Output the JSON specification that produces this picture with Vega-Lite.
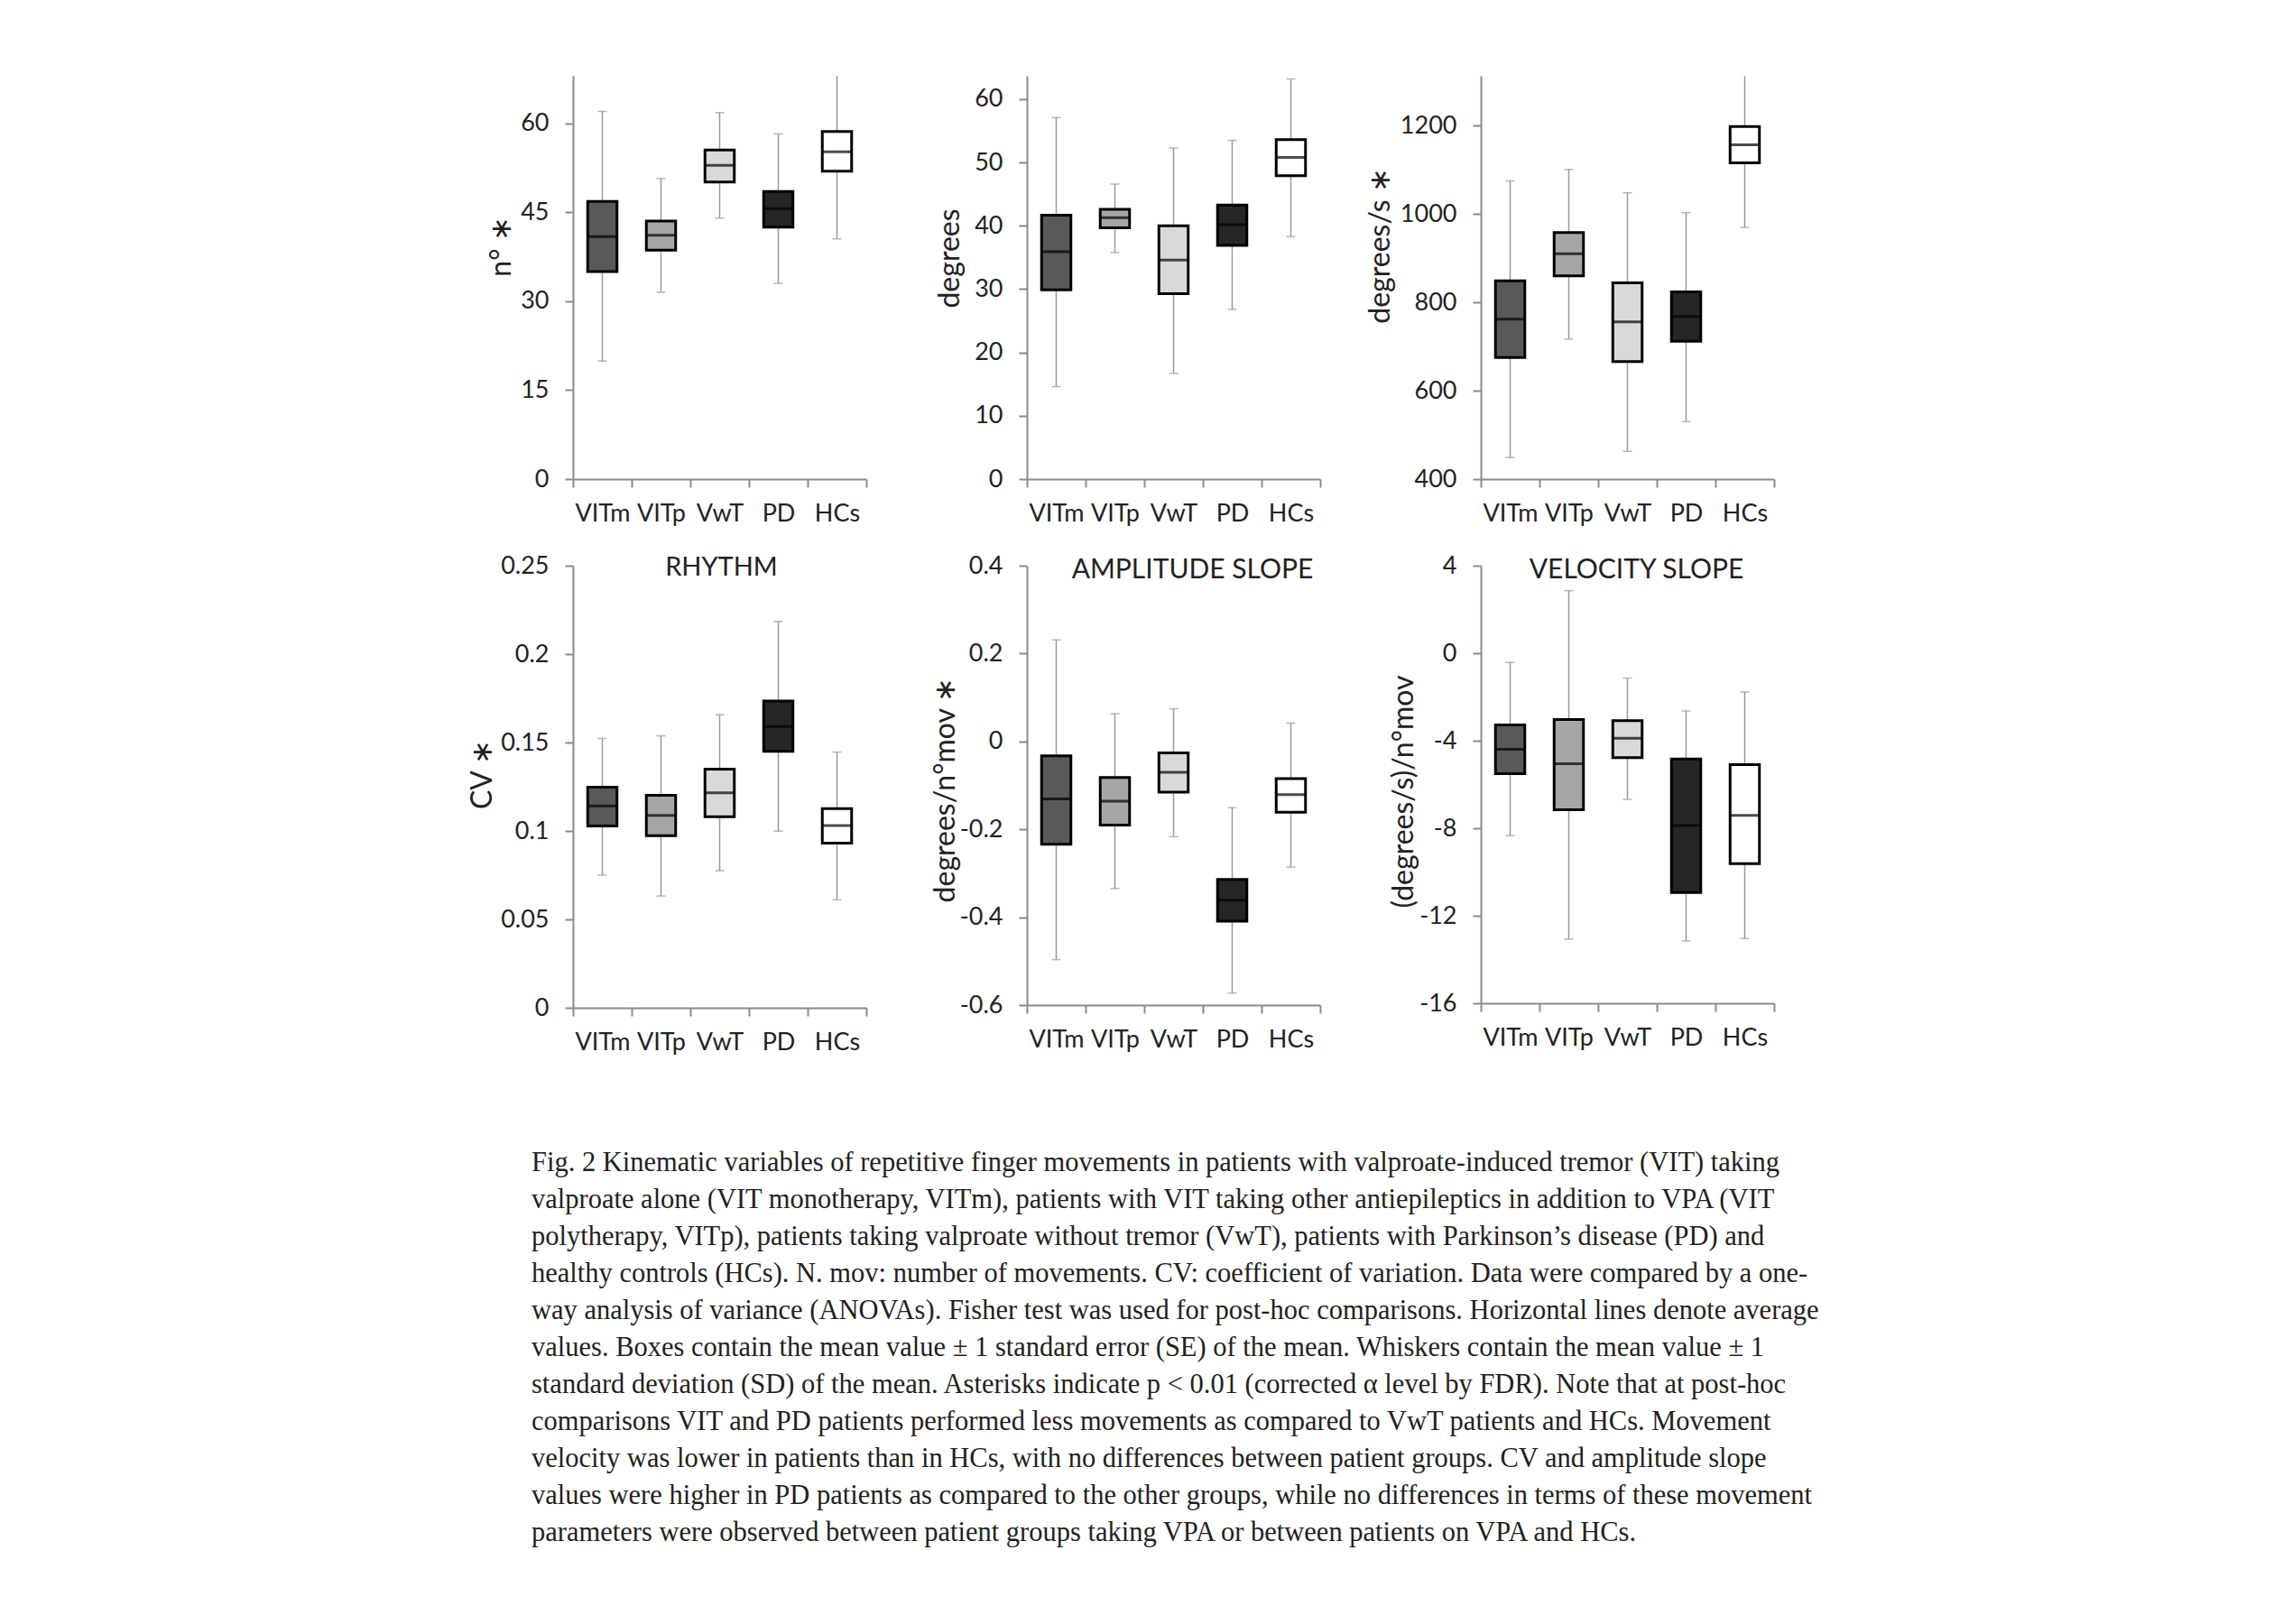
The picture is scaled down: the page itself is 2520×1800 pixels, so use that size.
{
  "$schema": "https://vega.github.io/schema/vega-lite/v6.json",
  "padding": {"left": 518, "top": 84, "right": 20, "bottom": 20},
  "background": "white",
  "datasets": {
    "boxes": [
      {"panel": "n", "group": "VITm", "lo": 19.9, "blo": 35.0, "mean": 40.9, "bhi": 46.8, "hi": 62.0},
      {"panel": "n", "group": "VITp", "lo": 31.5, "blo": 38.6, "mean": 41.1, "bhi": 43.5, "hi": 50.7},
      {"panel": "n", "group": "VwT", "lo": 44.0, "blo": 50.1, "mean": 52.9, "bhi": 55.5, "hi": 61.8},
      {"panel": "n", "group": "PD", "lo": 33.0, "blo": 42.5, "mean": 45.6, "bhi": 48.5, "hi": 58.2},
      {"panel": "n", "group": "HCs", "lo": 40.5, "blo": 51.9, "mean": 55.2, "bhi": 58.6, "hi": 69.9},
      {"panel": "deg", "group": "VITm", "lo": 14.6, "blo": 29.9, "mean": 35.9, "bhi": 41.7, "hi": 57.1},
      {"panel": "deg", "group": "VITp", "lo": 35.8, "blo": 39.7, "mean": 41.3, "bhi": 42.6, "hi": 46.6},
      {"panel": "deg", "group": "VwT", "lo": 16.7, "blo": 29.3, "mean": 34.6, "bhi": 40.0, "hi": 52.3},
      {"panel": "deg", "group": "PD", "lo": 26.8, "blo": 36.9, "mean": 40.2, "bhi": 43.3, "hi": 53.5},
      {"panel": "deg", "group": "HCs", "lo": 38.3, "blo": 47.9, "mean": 50.8, "bhi": 53.6, "hi": 63.2},
      {"panel": "vel", "group": "VITm", "lo": 449, "blo": 675, "mean": 762, "bhi": 849, "hi": 1075},
      {"panel": "vel", "group": "VITp", "lo": 717, "blo": 860, "mean": 910, "bhi": 958, "hi": 1101},
      {"panel": "vel", "group": "VwT", "lo": 463, "blo": 666, "mean": 756, "bhi": 844, "hi": 1048},
      {"panel": "vel", "group": "PD", "lo": 530, "blo": 712, "mean": 768, "bhi": 824, "hi": 1003},
      {"panel": "vel", "group": "HCs", "lo": 970, "blo": 1116, "mean": 1157, "bhi": 1198, "hi": 1344},
      {"panel": "cv", "group": "VITm", "lo": 0.075, "blo": 0.1028, "mean": 0.1141, "bhi": 0.1248, "hi": 0.1523},
      {"panel": "cv", "group": "VITp", "lo": 0.0632, "blo": 0.0973, "mean": 0.1088, "bhi": 0.1201, "hi": 0.1538},
      {"panel": "cv", "group": "VwT", "lo": 0.0775, "blo": 0.108, "mean": 0.1216, "bhi": 0.135, "hi": 0.1657},
      {"panel": "cv", "group": "PD", "lo": 0.0999, "blo": 0.145, "mean": 0.1591, "bhi": 0.1735, "hi": 0.2185},
      {"panel": "cv", "group": "HCs", "lo": 0.0611, "blo": 0.0931, "mean": 0.1031, "bhi": 0.1126, "hi": 0.1446},
      {"panel": "as", "group": "VITm", "lo": -0.4966, "blo": -0.2342, "mean": -0.1308, "bhi": -0.0327, "hi": 0.2312},
      {"panel": "as", "group": "VITp", "lo": -0.3346, "blo": -0.1901, "mean": -0.1361, "bhi": -0.0821, "hi": 0.0631},
      {"panel": "as", "group": "VwT", "lo": -0.2167, "blo": -0.1156, "mean": -0.07, "bhi": -0.0259, "hi": 0.0745},
      {"panel": "as", "group": "PD", "lo": -0.5726, "blo": -0.4091, "mean": -0.3612, "bhi": -0.3141, "hi": -0.1506},
      {"panel": "as", "group": "HCs", "lo": -0.2859, "blo": -0.1612, "mean": -0.1209, "bhi": -0.0844, "hi": 0.0418},
      {"panel": "vs", "group": "VITm", "lo": -8.34, "blo": -5.5, "mean": -4.39, "bhi": -3.28, "hi": -0.42},
      {"panel": "vs", "group": "VITp", "lo": -13.07, "blo": -7.15, "mean": -5.05, "bhi": -3.03, "hi": 2.86},
      {"panel": "vs", "group": "VwT", "lo": -6.68, "blo": -4.77, "mean": -3.89, "bhi": -3.08, "hi": -1.14},
      {"panel": "vs", "group": "PD", "lo": -13.15, "blo": -10.94, "mean": -7.88, "bhi": -4.83, "hi": -2.64},
      {"panel": "vs", "group": "HCs", "lo": -13.04, "blo": -9.62, "mean": -7.41, "bhi": -5.09, "hi": -1.77}
    ]
  },
  "title": {
    "text": [
      "Fig. 2 Kinematic variables of repetitive finger movements in patients with valproate-induced tremor (VIT) taking",
      "valproate alone (VIT monotherapy, VITm), patients with VIT taking other antiepileptics in addition to VPA (VIT",
      "polytherapy, VITp), patients taking valproate without tremor (VwT), patients with Parkinson’s disease (PD) and",
      "healthy controls (HCs). N. mov: number of movements. CV: coefficient of variation. Data were compared by a one-",
      "way analysis of variance (ANOVAs). Fisher test was used for post-hoc comparisons. Horizontal lines denote average",
      "values. Boxes contain the mean value ± 1 standard error (SE) of the mean. Whiskers contain the mean value ± 1",
      "standard deviation (SD) of the mean. Asterisks indicate p < 0.01 (corrected α level by FDR). Note that at post-hoc",
      "comparisons VIT and PD patients performed less movements as compared to VwT patients and HCs. Movement",
      "velocity was lower in patients than in HCs, with no differences between patient groups. CV and amplitude slope",
      "values were higher in PD patients as compared to the other groups, while no differences in terms of these movement",
      "parameters were observed between patient groups taking VPA or between patients on VPA and HCs."
    ],
    "orient": "bottom",
    "anchor": "start",
    "frame": "group",
    "baseline": "top",
    "font": "Liberation Serif",
    "fontSize": 30.5,
    "fontWeight": "normal",
    "lineHeight": 41,
    "color": "#231f20",
    "offset": 106,
    "dx": -46
  },
  "columns": 3,
  "spacing": {"row": 96, "column": 178},
  "bounds": "flush",
  "concat": [
    {
      "width": 325, "height": 447,
      "data": {"name": "boxes"},
      "transform": [{"filter": "datum.panel === 'n'"}],
      "encoding": {"x": {"field": "group", "type": "nominal", "sort": ["VITm", "VITp", "VwT", "PD", "HCs"], "scale": {"paddingInner": 0, "paddingOuter": 0}, "axis": {"title": null, "labelAngle": 0, "tickBand": "extent", "labelPadding": 16}}},
      "layer": [
        {"mark": {"type": "rule", "color": "#9a9a9a", "strokeWidth": 1.5, "clip": true}, "encoding": {"y": {"field": "lo", "type": "quantitative", "scale": {"domain": [0, 68], "nice": false, "zero": false}, "axis": {"title": "n° ∗", "values": [0, 15, 30, 45, 60], "labelExpr": "'' + datum.value", "titleX": -63, "titleY": 189}}, "y2": {"field": "hi"}}},
        {"mark": {"type": "tick", "color": "#9a9a9a", "thickness": 1.5, "size": 10, "clip": true}, "encoding": {"y": {"field": "lo", "type": "quantitative"}}},
        {"mark": {"type": "tick", "color": "#9a9a9a", "thickness": 1.5, "size": 10, "clip": true}, "encoding": {"y": {"field": "hi", "type": "quantitative"}}},
        {"mark": {"type": "bar", "width": {"band": 0.5}, "stroke": "black", "strokeWidth": 3}, "encoding": {"y": {"field": "blo", "type": "quantitative"}, "y2": {"field": "bhi"}, "color": {"field": "group", "type": "nominal", "scale": {"domain": ["VITm", "VITp", "VwT", "PD", "HCs"], "range": ["#595959", "#a6a6a6", "#d9d9d9", "#262626", "#ffffff"]}, "legend": null}}},
        {"mark": {"type": "tick", "color": "black", "thickness": 3, "size": 33}, "encoding": {"y": {"field": "mean", "type": "quantitative"}}}
      ]
    },
    {
      "width": 325, "height": 447,
      "data": {"name": "boxes"},
      "transform": [{"filter": "datum.panel === 'deg'"}],
      "encoding": {"x": {"field": "group", "type": "nominal", "sort": ["VITm", "VITp", "VwT", "PD", "HCs"], "scale": {"paddingInner": 0, "paddingOuter": 0}, "axis": {"title": null, "labelAngle": 0, "tickBand": "extent", "labelPadding": 16}}},
      "layer": [
        {"mark": {"type": "rule", "color": "#9a9a9a", "strokeWidth": 1.5, "clip": true}, "encoding": {"y": {"field": "lo", "type": "quantitative", "scale": {"domain": [0, 63.7], "nice": false, "zero": false}, "axis": {"title": "degrees", "values": [0, 10, 20, 30, 40, 50, 60], "labelExpr": "'' + datum.value", "titleX": -69, "titleY": 202}}, "y2": {"field": "hi"}}},
        {"mark": {"type": "tick", "color": "#9a9a9a", "thickness": 1.5, "size": 10, "clip": true}, "encoding": {"y": {"field": "lo", "type": "quantitative"}}},
        {"mark": {"type": "tick", "color": "#9a9a9a", "thickness": 1.5, "size": 10, "clip": true}, "encoding": {"y": {"field": "hi", "type": "quantitative"}}},
        {"mark": {"type": "bar", "width": {"band": 0.5}, "stroke": "black", "strokeWidth": 3}, "encoding": {"y": {"field": "blo", "type": "quantitative"}, "y2": {"field": "bhi"}, "color": {"field": "group", "type": "nominal", "scale": {"domain": ["VITm", "VITp", "VwT", "PD", "HCs"], "range": ["#595959", "#a6a6a6", "#d9d9d9", "#262626", "#ffffff"]}, "legend": null}}},
        {"mark": {"type": "tick", "color": "black", "thickness": 3, "size": 33}, "encoding": {"y": {"field": "mean", "type": "quantitative"}}}
      ]
    },
    {
      "width": 325, "height": 447,
      "data": {"name": "boxes"},
      "transform": [{"filter": "datum.panel === 'vel'"}],
      "encoding": {"x": {"field": "group", "type": "nominal", "sort": ["VITm", "VITp", "VwT", "PD", "HCs"], "scale": {"paddingInner": 0, "paddingOuter": 0}, "axis": {"title": null, "labelAngle": 0, "tickBand": "extent", "labelPadding": 16}}},
      "layer": [
        {"mark": {"type": "rule", "color": "#9a9a9a", "strokeWidth": 1.5, "clip": true}, "encoding": {"y": {"field": "lo", "type": "quantitative", "scale": {"domain": [400, 1313], "nice": false, "zero": false}, "axis": {"title": "degrees/s ∗", "values": [400, 600, 800, 1000, 1200], "labelExpr": "'' + datum.value", "titleX": -95, "titleY": 188}}, "y2": {"field": "hi"}}},
        {"mark": {"type": "tick", "color": "#9a9a9a", "thickness": 1.5, "size": 10, "clip": true}, "encoding": {"y": {"field": "lo", "type": "quantitative"}}},
        {"mark": {"type": "tick", "color": "#9a9a9a", "thickness": 1.5, "size": 10, "clip": true}, "encoding": {"y": {"field": "hi", "type": "quantitative"}}},
        {"mark": {"type": "bar", "width": {"band": 0.5}, "stroke": "black", "strokeWidth": 3}, "encoding": {"y": {"field": "blo", "type": "quantitative"}, "y2": {"field": "bhi"}, "color": {"field": "group", "type": "nominal", "scale": {"domain": ["VITm", "VITp", "VwT", "PD", "HCs"], "range": ["#595959", "#a6a6a6", "#d9d9d9", "#262626", "#ffffff"]}, "legend": null}}},
        {"mark": {"type": "tick", "color": "black", "thickness": 3, "size": 33}, "encoding": {"y": {"field": "mean", "type": "quantitative"}}}
      ]
    },
    {
      "width": 325, "height": 490,
      "title": {"text": "RHYTHM", "anchor": "middle", "frame": "group", "baseline": "alphabetic", "offset": -54, "dx": 2, "font": "Lato", "fontSize": 29, "fontWeight": "normal", "color": "#222"},
      "data": {"name": "boxes"},
      "transform": [{"filter": "datum.panel === 'cv'"}],
      "encoding": {"x": {"field": "group", "type": "nominal", "sort": ["VITm", "VITp", "VwT", "PD", "HCs"], "scale": {"paddingInner": 0, "paddingOuter": 0}, "axis": {"title": null, "labelAngle": 0, "tickBand": "extent", "labelPadding": 16}}},
      "layer": [
        {"mark": {"type": "rule", "color": "#9a9a9a", "strokeWidth": 1.5, "clip": true}, "encoding": {"y": {"field": "lo", "type": "quantitative", "scale": {"domain": [0, 0.25], "nice": false, "zero": false}, "axis": {"title": "CV ∗", "values": [0, 0.05, 0.1, 0.15, 0.2, 0.25], "labelExpr": "'' + datum.value", "titleX": -84, "titleY": 231}}, "y2": {"field": "hi"}}},
        {"mark": {"type": "tick", "color": "#9a9a9a", "thickness": 1.5, "size": 10, "clip": true}, "encoding": {"y": {"field": "lo", "type": "quantitative"}}},
        {"mark": {"type": "tick", "color": "#9a9a9a", "thickness": 1.5, "size": 10, "clip": true}, "encoding": {"y": {"field": "hi", "type": "quantitative"}}},
        {"mark": {"type": "bar", "width": {"band": 0.5}, "stroke": "black", "strokeWidth": 3}, "encoding": {"y": {"field": "blo", "type": "quantitative"}, "y2": {"field": "bhi"}, "color": {"field": "group", "type": "nominal", "scale": {"domain": ["VITm", "VITp", "VwT", "PD", "HCs"], "range": ["#595959", "#a6a6a6", "#d9d9d9", "#262626", "#ffffff"]}, "legend": null}}},
        {"mark": {"type": "tick", "color": "black", "thickness": 3, "size": 33}, "encoding": {"y": {"field": "mean", "type": "quantitative"}}}
      ]
    },
    {
      "width": 325, "height": 487,
      "title": {"text": "AMPLITUDE SLOPE", "anchor": "middle", "frame": "group", "baseline": "alphabetic", "offset": -58, "dx": 21, "font": "Lato", "fontSize": 30, "fontWeight": "normal", "color": "#222"},
      "data": {"name": "boxes"},
      "transform": [{"filter": "datum.panel === 'as'"}],
      "encoding": {"x": {"field": "group", "type": "nominal", "sort": ["VITm", "VITp", "VwT", "PD", "HCs"], "scale": {"paddingInner": 0, "paddingOuter": 0}, "axis": {"title": null, "labelAngle": 0, "tickBand": "extent", "labelPadding": 16}}},
      "layer": [
        {"mark": {"type": "rule", "color": "#9a9a9a", "strokeWidth": 1.5, "clip": true}, "encoding": {"y": {"field": "lo", "type": "quantitative", "scale": {"domain": [-0.6, 0.4], "nice": false, "zero": false}, "axis": {"title": "degrees/n°mov ∗", "values": [-0.6, -0.4, -0.2, 0, 0.2, 0.4], "labelExpr": "'' + datum.value", "titleX": -74, "titleY": 248}}, "y2": {"field": "hi"}}},
        {"mark": {"type": "tick", "color": "#9a9a9a", "thickness": 1.5, "size": 10, "clip": true}, "encoding": {"y": {"field": "lo", "type": "quantitative"}}},
        {"mark": {"type": "tick", "color": "#9a9a9a", "thickness": 1.5, "size": 10, "clip": true}, "encoding": {"y": {"field": "hi", "type": "quantitative"}}},
        {"mark": {"type": "bar", "width": {"band": 0.5}, "stroke": "black", "strokeWidth": 3}, "encoding": {"y": {"field": "blo", "type": "quantitative"}, "y2": {"field": "bhi"}, "color": {"field": "group", "type": "nominal", "scale": {"domain": ["VITm", "VITp", "VwT", "PD", "HCs"], "range": ["#595959", "#a6a6a6", "#d9d9d9", "#262626", "#ffffff"]}, "legend": null}}},
        {"mark": {"type": "tick", "color": "black", "thickness": 3, "size": 33}, "encoding": {"y": {"field": "mean", "type": "quantitative"}}}
      ]
    },
    {
      "width": 325, "height": 485,
      "title": {"text": "VELOCITY SLOPE", "anchor": "middle", "frame": "group", "baseline": "alphabetic", "offset": -58, "dx": 10, "font": "Lato", "fontSize": 30, "fontWeight": "normal", "color": "#222"},
      "data": {"name": "boxes"},
      "transform": [{"filter": "datum.panel === 'vs'"}],
      "encoding": {"x": {"field": "group", "type": "nominal", "sort": ["VITm", "VITp", "VwT", "PD", "HCs"], "scale": {"paddingInner": 0, "paddingOuter": 0}, "axis": {"title": null, "labelAngle": 0, "tickBand": "extent", "labelPadding": 16}}},
      "layer": [
        {"mark": {"type": "rule", "color": "#9a9a9a", "strokeWidth": 1.5, "clip": true}, "encoding": {"y": {"field": "lo", "type": "quantitative", "scale": {"domain": [-16, 4], "nice": false, "zero": false}, "axis": {"title": "(degrees/s)/n°mov", "values": [-16, -12, -8, -4, 0, 4], "labelExpr": "'' + datum.value", "titleX": -69, "titleY": 250}}, "y2": {"field": "hi"}}},
        {"mark": {"type": "tick", "color": "#9a9a9a", "thickness": 1.5, "size": 10, "clip": true}, "encoding": {"y": {"field": "lo", "type": "quantitative"}}},
        {"mark": {"type": "tick", "color": "#9a9a9a", "thickness": 1.5, "size": 10, "clip": true}, "encoding": {"y": {"field": "hi", "type": "quantitative"}}},
        {"mark": {"type": "bar", "width": {"band": 0.5}, "stroke": "black", "strokeWidth": 3}, "encoding": {"y": {"field": "blo", "type": "quantitative"}, "y2": {"field": "bhi"}, "color": {"field": "group", "type": "nominal", "scale": {"domain": ["VITm", "VITp", "VwT", "PD", "HCs"], "range": ["#595959", "#a6a6a6", "#d9d9d9", "#262626", "#ffffff"]}, "legend": null}}},
        {"mark": {"type": "tick", "color": "black", "thickness": 3, "size": 33}, "encoding": {"y": {"field": "mean", "type": "quantitative"}}}
      ]
    }
  ],
  "config": {
    "view": {"stroke": null},
    "axis": {
      "grid": false,
      "domainColor": "#8a8a8a",
      "tickColor": "#8a8a8a",
      "domainWidth": 2,
      "tickWidth": 2,
      "tickSize": 9,
      "labelFont": "Lato",
      "labelFontSize": 27,
      "labelColor": "#222222",
      "titleFont": "Lato",
      "titleFontSize": 32,
      "titleFontWeight": "normal",
      "titleColor": "#222222"
    },
    "axisY": {"labelPadding": 18}
  }
}
